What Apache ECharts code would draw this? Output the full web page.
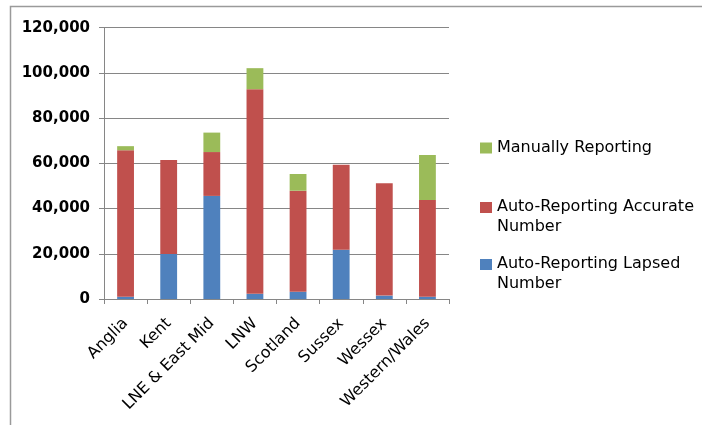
<!DOCTYPE html>
<html>
<head>
<meta charset="utf-8">
<script src="https://cdn.jsdelivr.net/npm/echarts@6/dist/echarts.min.js"></script>
<style>
  html, body { margin: 0; padding: 0; background: #fff; }
  #chart { width: 702px; height: 425px; }
</style>
</head>
<body>
<div id="chart"></div>
<script>
// Regions along the horizontal axis
const regions = ['Anglia', 'Kent', 'LNE & East Mid', 'LNW', 'Scotland', 'Sussex', 'Wessex', 'Western/Wales'];

// Stacked counts per region (bottom to top)
const lapsed   = [1000, 19900, 45600, 2300, 3200, 21800, 1500, 1000];
const accurate = [64800, 41600, 19400, 90500, 44700, 37600, 49700, 42800];
const manual   = [1800, 0, 8600, 9300, 7400, 0, 0, 19900];

// Value axis ticks
const yTicks = [0, 20000, 40000, 60000, 80000, 100000, 120000];

const names = {
  lapsed: 'Auto-Reporting Lapsed\nNumber',
  accurate: 'Auto-Reporting Accurate\nNumber',
  manual: 'Manually Reporting'
};
const colors = { lapsed: '#4F81BD', accurate: '#C0504D', manual: '#9BBB59' };

const axisGray = '#868686';
const textFont = 'DejaVu Sans';

// Square icon sitting on the first text line of a two-line legend entry
const topSquare = 'path://M0,0L12,0L12,11L0,11Z M0,30L0.01,30';

const chart = echarts.init(document.getElementById('chart'), null, { renderer: 'canvas' });

function fmt(v) {
  return v.toString().replace(/\B(?=(\d{3})+(?!\d))/g, ',');
}

const legendText = { fontFamily: textFont, fontSize: 16, color: '#000', lineHeight: 20 };

chart.setOption({
  animation: false,
  backgroundColor: '#fff',
  grid: { left: 104, right: 253, top: 27.7, bottom: 126, containLabel: false },
  legend: [
    { data: [names.manual], left: 480, top: 138, padding: 0, itemWidth: 12, itemHeight: 11, itemGap: 0,
      selectedMode: false, textStyle: legendText, icon: 'rect' },
    { data: [names.accurate], left: 480, top: 197, padding: 0, itemWidth: 12, itemHeight: 30, itemGap: 0,
      selectedMode: false, textStyle: legendText, icon: topSquare },
    { data: [names.lapsed], left: 480, top: 254, padding: 0, itemWidth: 12, itemHeight: 30, itemGap: 0,
      selectedMode: false, textStyle: legendText, icon: topSquare }
  ],
  xAxis: {
    type: 'category',
    data: regions,
    axisLine: { lineStyle: { color: axisGray, width: 1 } },
    axisTick: { show: true, length: 5, alignWithLabel: false, lineStyle: { color: axisGray } },
    axisLabel: {
      interval: 0, rotate: 45, margin: 22,
      fontFamily: textFont, fontSize: 16, color: '#000'
    }
  },
  yAxis: {
    type: 'value',
    min: yTicks[0], max: yTicks[yTicks.length - 1], interval: yTicks[1] - yTicks[0],
    axisLine: { show: true, lineStyle: { color: axisGray, width: 1 } },
    axisTick: { show: true, length: 5, lineStyle: { color: axisGray } },
    splitLine: { show: true, lineStyle: { color: axisGray, width: 1 } },
    axisLabel: {
      margin: 14, fontFamily: textFont, fontWeight: 'bold', fontSize: 15, color: '#000',
      formatter: fmt
    }
  },
  series: [
    { name: names.lapsed, type: 'bar', stack: 'total', data: lapsed, barWidth: '39%',
      itemStyle: { color: colors.lapsed } },
    { name: names.accurate, type: 'bar', stack: 'total', data: accurate, barWidth: '39%',
      itemStyle: { color: colors.accurate } },
    { name: names.manual, type: 'bar', stack: 'total', data: manual, barWidth: '39%',
      itemStyle: { color: colors.manual } }
  ],
  graphic: [
    { type: 'polyline', silent: true,
      shape: { points: [[10.5, 425], [10.5, 6.5], [702, 6.5]] },
      style: { stroke: '#9a9a9a', lineWidth: 1.5, fill: null } }
  ]
});
</script>
</body>
</html>
